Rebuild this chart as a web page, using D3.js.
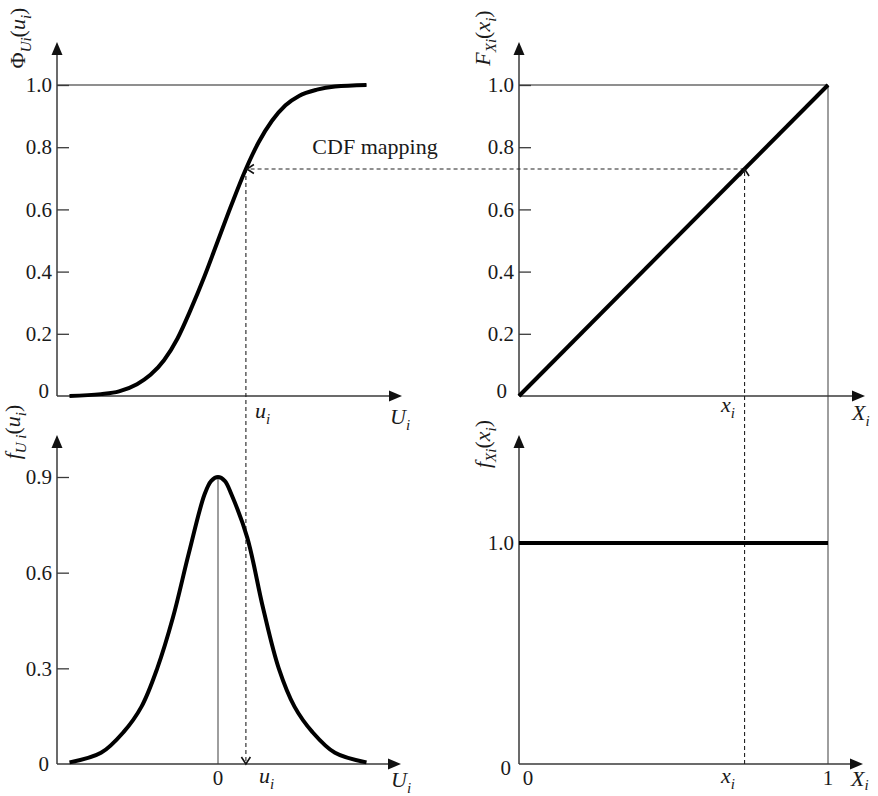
<!DOCTYPE html>
<html>
<head>
<meta charset="utf-8">
<script src="https://cdn.jsdelivr.net/npm/d3@7"></script>
<style>
  html, body { margin: 0; padding: 0; background: #fff; }
  svg { display: block; }
  text { font-family: "Liberation Serif", "Times New Roman", serif; fill: #1a1a1a; }
</style>
</head>
<body>
<svg id="chart" width="878" height="796" font-family="Liberation Serif, Times New Roman, serif"></svg>
<script>
// Standard normal variable U: CDF and PDF samples
const uCdf = [-3.3, -2.6, -2.2, -1.8, -1.5, -1.2, -0.9, -0.6, -0.3, 0, 0.3, 0.62, 0.9, 1.2, 1.5, 1.8, 2.2, 2.6, 3.3];
const cdfVals = [0.0, 0.006, 0.015, 0.038, 0.068, 0.115, 0.185, 0.28, 0.385, 0.5, 0.615, 0.73, 0.815, 0.885, 0.935, 0.965, 0.985, 0.995, 1.0];

const uPdf = [-3.3, -2.6, -2.1, -1.7, -1.35, -1.0, -0.65, -0.3, -0.15, 0, 0.15, 0.3, 0.65, 1.0, 1.35, 1.7, 2.1, 2.6, 3.3];
const pdfVals = [0.005, 0.035, 0.10, 0.18, 0.30, 0.46, 0.66, 0.845, 0.888, 0.90, 0.888, 0.845, 0.71, 0.49, 0.30, 0.18, 0.10, 0.035, 0.005];

// Uniform variable X on [0, 1]: CDF and PDF
const xUni = [0, 1];
const uniCdf = [0, 1];
const uniPdf = [1, 1];

// Mapped point
const xi = 0.73;      // x_i
const Fxi = 0.73;     // F_X(x_i) = Φ(u_i)
const ui = 0.62;      // u_i

// Tick values
const cdfTicks = [0, 0.2, 0.4, 0.6, 0.8, 1.0];
const pdfUTicks = [0, 0.3, 0.6, 0.9];
const pdfXTicks = [0, 1.0];

const svg = d3.select("#chart");
svg.append("rect").attr("width", 878).attr("height", 796).attr("fill", "#fff");

// Scales
const uX = d3.scaleLinear().domain([-1, 1]).range([173, 263]);        // u -> px (left panels)
const xX = d3.scaleLinear().domain([0, 1]).range([519, 828]);          // x -> px (right panels)
const cdfY = d3.scaleLinear().domain([0, 1]).range([396, 85]);         // top panels
const pdfUY = d3.scaleLinear().domain([0, 0.9]).range([764, 477]);     // bottom-left
const pdfXY = d3.scaleLinear().domain([0, 1]).range([764, 543]);       // bottom-right

const AXIS = "#3a3a3a", REF = "#6a6a6a";

// ---- helpers ----
function arrowAxis(x1, y1, x2, y2) {
  // line with a filled triangular head at (x2, y2)
  const len = 13, hw = 5.5;
  const dx = x2 - x1, dy = y2 - y1, L = Math.hypot(dx, dy);
  const ux = dx / L, uy = dy / L;
  const bx = x2 - ux * len, by = y2 - uy * len;
  svg.append("line").attr("x1", x1).attr("y1", y1).attr("x2", bx + ux).attr("y2", by + uy)
    .attr("stroke", AXIS).attr("stroke-width", 1.5);
  svg.append("path")
    .attr("d", `M${x2},${y2}L${bx - uy * hw},${by + ux * hw}L${bx + uy * hw},${by - ux * hw}Z`)
    .attr("fill", "#111");
}

function chevron(x, y, dir) {
  // open arrowhead at (x, y) pointing in direction dir ("left", "up", "down")
  const s = 7, w = 4.5;
  let d;
  if (dir === "left") d = `M${x + s},${y - w}L${x},${y}L${x + s},${y + w}`;
  if (dir === "down") d = `M${x - w},${y - s}L${x},${y}L${x + w},${y - s}`;
  if (dir === "up") d = `M${x - w},${y + s}L${x},${y}L${x + w},${y + s}`;
  svg.append("path").attr("d", d).attr("fill", "none").attr("stroke", "#111").attr("stroke-width", 1.6);
}

function rich(parent, parts, size, subShift) {
  // parts: [text, italic, subscript]
  const t = parent;
  const sh = size * (subShift == null ? 0.26 : subShift);
  let shifted = false;
  parts.forEach(([s, it, sub]) => {
    const sp = t.append("tspan").text(s)
      .attr("font-style", it ? "italic" : "normal")
      .attr("font-size", sub ? Math.round(size * 0.68) : size);
    if (sub && !shifted) { sp.attr("dy", sh); shifted = true; }
    else if (!sub && shifted) { sp.attr("dy", -sh); shifted = false; }
  });
  return t;
}

function label(x, y, parts, size, anchor, rotate, subShift) {
  const t = svg.append("text")
    .attr("transform", `translate(${x},${y})` + (rotate ? " rotate(-90)" : ""))
    .attr("text-anchor", anchor || "start")
    .attr("font-size", size);
  return rich(t, parts, size, subShift);
}

const fmt = d => d === 0 ? "0" : d3.format(".1f")(d);

function yAxis(x, scale, ticks, zeroShift) {
  const g = svg.append("g").attr("transform", `translate(${x},0)`)
    .call(d3.axisLeft(scale).tickValues(ticks).tickFormat(fmt).tickSize(-12).tickSizeOuter(0).tickPadding(5));
  g.attr("font-family", null).attr("font-size", null);
  g.select(".domain").remove();
  g.selectAll(".tick line").attr("stroke", AXIS).attr("stroke-width", 1.3)
    .filter(d => d === 0).remove();
  g.selectAll(".tick text").attr("font-size", 21).attr("fill", "#1a1a1a");
  g.selectAll(".tick text").filter(d => d === 0)
    .attr("dx", zeroShift[0]).attr("transform", `translate(0,${zeroShift[1]})`);
  return g;
}

// ---- reference lines (thin grey) ----
// top-left: Φ = 1 asymptote
svg.append("line").attr("x1", 57).attr("x2", uX(3.3)).attr("y1", cdfY(1)).attr("y2", cdfY(1))
  .attr("stroke", REF).attr("stroke-width", 1.3);
// top-right: F = 1 level
svg.append("line").attr("x1", xX(0)).attr("x2", xX(1)).attr("y1", cdfY(1)).attr("y2", cdfY(1))
  .attr("stroke", REF).attr("stroke-width", 1.3);
// x = 1 vertical through both right panels
svg.append("line").attr("x1", xX(1)).attr("x2", xX(1)).attr("y1", cdfY(1)).attr("y2", pdfXY(0))
  .attr("stroke", REF).attr("stroke-width", 1.3);
// u = 0 vertical under the PDF peak
svg.append("line").attr("x1", uX(0)).attr("x2", uX(0)).attr("y1", pdfUY(0.9)).attr("y2", pdfUY(0))
  .attr("stroke", REF).attr("stroke-width", 1.3);

// ---- axes ----
yAxis(57, cdfY, cdfTicks, [-3, -5]);
yAxis(519, cdfY, cdfTicks, [-7, -5]);
yAxis(57, pdfUY, pdfUTicks, [-3, 0]);
yAxis(519, pdfXY, pdfXTicks, [-3, 4]);

arrowAxis(57, 396, 57, 42);
arrowAxis(57, 396, 402, 396);
arrowAxis(519, 396, 519, 42);
arrowAxis(519, 396, 865, 396);
arrowAxis(57, 764, 57, 435);
arrowAxis(57, 764, 401, 764);
arrowAxis(519, 764, 519, 435);
arrowAxis(519, 764, 863, 764);

// ---- dashed mapping path ----
const dash = "4,3";
// from x_i up to the uniform CDF
svg.append("line").attr("x1", xX(xi)).attr("x2", xX(xi)).attr("y1", pdfXY(0)).attr("y2", cdfY(Fxi) + 1)
  .attr("stroke", "#222").attr("stroke-width", 1.1).attr("stroke-dasharray", dash);
// across to the normal CDF
svg.append("line").attr("x1", xX(xi)).attr("x2", uX(ui) + 1).attr("y1", cdfY(Fxi)).attr("y2", cdfY(Fxi))
  .attr("stroke", "#222").attr("stroke-width", 1.1).attr("stroke-dasharray", dash);
// down to u_i
svg.append("line").attr("x1", uX(ui)).attr("x2", uX(ui)).attr("y1", cdfY(Fxi)).attr("y2", pdfUY(0) - 1)
  .attr("stroke", "#222").attr("stroke-width", 1.1).attr("stroke-dasharray", dash);

// ---- curves ----
const lineCdf = d3.line().x(d => uX(d[0])).y(d => cdfY(d[1])).curve(d3.curveMonotoneX);
svg.append("path").attr("d", lineCdf(d3.zip(uCdf, cdfVals)))
  .attr("fill", "none").attr("stroke", "#000").attr("stroke-width", 4);

const linePdf = d3.line().x(d => uX(d[0])).y(d => pdfUY(d[1])).curve(d3.curveCatmullRom.alpha(0.5));
svg.append("path").attr("d", linePdf(d3.zip(uPdf, pdfVals)))
  .attr("fill", "none").attr("stroke", "#000").attr("stroke-width", 4);

const lineUniCdf = d3.line().x(d => xX(d[0])).y(d => cdfY(d[1]));
svg.append("path").attr("d", lineUniCdf(d3.zip(xUni, uniCdf)))
  .attr("fill", "none").attr("stroke", "#000").attr("stroke-width", 4);

const lineUniPdf = d3.line().x(d => xX(d[0])).y(d => pdfXY(d[1]));
svg.append("path").attr("d", lineUniPdf(d3.zip(xUni, uniPdf)))
  .attr("fill", "none").attr("stroke", "#000").attr("stroke-width", 4);

// arrowheads on the mapping path
chevron(xX(xi), cdfY(Fxi), "up");
chevron(uX(ui) + 1, cdfY(Fxi), "left");
chevron(uX(ui), pdfUY(0), "down");

// ---- text ----
svg.append("text").attr("x", 375).attr("y", 154).attr("text-anchor", "middle")
  .attr("font-size", 22).text("CDF mapping");

// axis titles (rotated)
label(25, 38, [["Φ", false, false], ["Ui", true, true], ["(", false, false], ["u", true, false], ["i", true, true], [")", false, false]], 22, "middle", true);
label(490, 38, [["F", true, false], ["Xi", true, true], ["(", false, false], ["x", true, false], ["i", true, true], [")", false, false]], 22, "middle", true);
label(20, 432, [["f", true, false], ["U i", true, true], ["(", false, false], ["u", true, false], ["i", true, true], [")", false, false]], 22, "middle", true);
label(490, 444, [["f", true, false], ["Xi", true, true], ["(", false, false], ["x", true, false], ["i", true, true], [")", false, false]], 22, "middle", true);

// horizontal axis labels
label(255, 418, [["u", true, false], ["i", true, true]], 22);
label(390, 424, [["U", true, false], ["i", true, true]], 22);
label(721, 412, [["x", true, false], ["i", true, true]], 22);
label(852, 420, [["X", true, false], ["i", true, true]], 22);

label(uX(0), 785, [["0", false, false]], 21, "middle");
label(259, 783, [["u", true, false], ["i", true, true]], 22);
label(391, 787, [["U", true, false], ["i", true, true]], 22);

label(528, 785, [["0", false, false]], 21, "middle");
label(721, 783, [["x", true, false], ["i", true, true]], 22);
label(xX(1), 785, [["1", false, false]], 21, "middle");
label(851, 786, [["X", true, false], ["i", true, true]], 22, "start", false, 0.16);
</script>
</body>
</html>
